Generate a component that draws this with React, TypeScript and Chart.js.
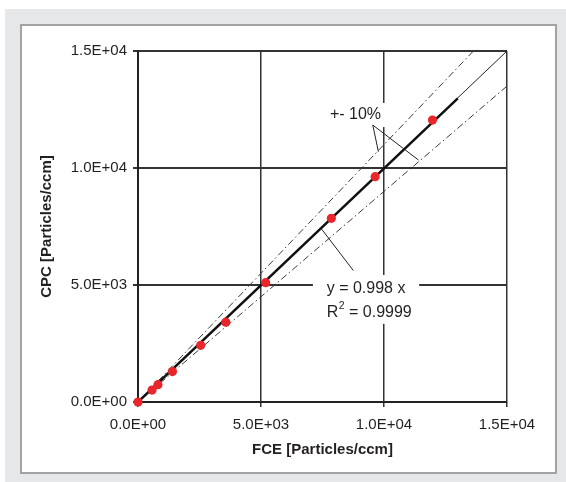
import React, { useEffect, useRef } from "react";
import { Chart, registerables } from "chart.js";

Chart.register(...registerables);

// Measured data (FCE vs CPC, particles/ccm)
const fceValues = [0, 570, 810, 1400, 2550, 3570, 5190, 7860, 9640, 11970];
const cpcValues = [0, 510, 740, 1300, 2420, 3410, 5100, 7850, 9630, 12050];

// Regression line y = 0.998 x (drawn segment)
const fitX = [0, 13000];
const fitY = [0, 12974];

// 1:1 reference line
const unityX = [0, 15000];
const unityY = [0, 15000];

// +10 % and -10 % bands
const upperX = [0, 13636];
const upperY = [0, 15000];
const lowerX = [0, 15000];
const lowerY = [0, 13500];

const axisTicks = [0, 5000, 10000, 15000];
const xTitle = "FCE [Particles/ccm]";
const yTitle = "CPC [Particles/ccm]";
const bandLabel = "+- 10%";
const eqLabel = "y = 0.998 x";
const r2Label = " = 0.9999";

const FONT = "'Liberation Sans', Arial, Helvetica, sans-serif";
const TEXT = "#231f20";

function sci(v: number): string {
  const [m, e] = v.toExponential(1).split("e");
  const sign = e.startsWith("-") ? "-" : "+";
  const digits = e.replace(/[+-]/, "").padStart(2, "0");
  return `${m}E${sign}${digits}`;
}

const pts = (xs: number[], ys: number[]) => xs.map((x, i) => ({ x, y: ys[i] }));

const annotationPlugin = {
  id: "fitAnnotations",
  beforeDatasetsDraw(chart: any) {
    const { ctx, scales } = chart;
    const x = scales.x;
    const y = scales.y;
    ctx.save();
    ctx.fillStyle = "#ffffff";
    const box = (x0: number, x1: number, y0: number, y1: number) => {
      const px0 = x.getPixelForValue(x0);
      const px1 = x.getPixelForValue(x1);
      const py0 = y.getPixelForValue(y1);
      const py1 = y.getPixelForValue(y0);
      ctx.fillRect(px0, py0, px1 - px0, py1 - py0);
    };
    box(7600, 10170, 11750, 12780);
    box(7110, 11430, 3340, 5430);
    ctx.restore();
  },
  afterDatasetsDraw(chart: any) {
    const { ctx, scales } = chart;
    const x = scales.x;
    const y = scales.y;
    const P = (a: number, b: number) => [x.getPixelForValue(a), y.getPixelForValue(b)];
    ctx.save();
    ctx.strokeStyle = "#222";
    ctx.lineWidth = 1;
    const line = (a: number[], b: number[]) => {
      ctx.beginPath();
      ctx.moveTo(a[0], a[1]);
      ctx.lineTo(b[0], b[1]);
      ctx.stroke();
    };
    const apex = P(9544, 11835);
    line(apex, P(9772, 10696));
    line(apex, P(11401, 10341));
    line(P(7467, 7384), P(8754, 5617));

    ctx.fillStyle = TEXT;
    ctx.textAlign = "left";
    ctx.textBaseline = "alphabetic";
    ctx.font = `16px ${FONT}`;
    const t1 = P(7800, 12080);
    ctx.fillText(bandLabel, t1[0], t1[1]);
    const t2 = P(7670, 4644);
    ctx.fillText(eqLabel, t2[0], t2[1]);
    const t3 = P(7670, 3653);
    ctx.fillText("R", t3[0], t3[1]);
    const rw = ctx.measureText("R").width;
    ctx.font = `10.5px ${FONT}`;
    ctx.fillText("2", t3[0] + rw + 0.5, t3[1] - 7.5);
    const sw = ctx.measureText("2").width;
    ctx.font = `16px ${FONT}`;
    ctx.fillText(r2Label, t3[0] + rw + sw + 0.5, t3[1]);
    ctx.restore();
  },
};

export default function App() {
  const canvasRef = useRef<HTMLCanvasElement | null>(null);

  useEffect(() => {
    const canvas = canvasRef.current;
    if (!canvas) return;
    const chart = new Chart(canvas, {
      type: "scatter",
      data: {
        datasets: [
          {
            label: "Measurements",
            data: pts(fceValues, cpcValues),
            backgroundColor: "#e8262c",
            borderColor: "#e8262c",
            pointRadius: 4.6,
            pointBorderWidth: 0,
            showLine: false,
            clip: false,
          },
          {
            label: "Fit",
            data: pts(fitX, fitY),
            showLine: true,
            borderColor: "#111111",
            borderWidth: 2.5,
            pointRadius: 0,
          },
          {
            label: "1:1",
            data: pts(unityX, unityY),
            showLine: true,
            borderColor: "#222222",
            borderWidth: 1,
            pointRadius: 0,
          },
          {
            label: "+10%",
            data: pts(upperX, upperY),
            showLine: true,
            borderColor: "#3a3a3a",
            borderWidth: 1,
            borderDash: [7, 3, 1.5, 3],
            pointRadius: 0,
          },
          {
            label: "-10%",
            data: pts(lowerX, lowerY),
            showLine: true,
            borderColor: "#3a3a3a",
            borderWidth: 1,
            borderDash: [7, 3, 1.5, 3],
            pointRadius: 0,
          },
        ],
      },
      options: {
        responsive: false,
        animation: false,
        devicePixelRatio: window.devicePixelRatio || 1,
        layout: { padding: { left: 0, top: 51, right: 59, bottom: 0 } },
        plugins: {
          legend: { display: false },
          tooltip: { enabled: false },
        },
        scales: {
          x: {
            type: "linear",
            min: 0,
            max: 15000,
            afterFit: (axis: any) => {
              axis.height = 80;
            },
            afterBuildTicks: (axis: any) => {
              axis.ticks = axisTicks.map((v) => ({ value: v }));
            },
            ticks: {
              callback: (v: any) => sci(Number(v)),
              color: TEXT,
              font: { family: FONT, size: 15 },
              padding: 9,
              maxRotation: 0,
            },
            grid: {
              color: "#333333",
              lineWidth: 1.5,
              drawTicks: true,
              tickLength: 5,
              tickColor: "#333333",
            },
            border: { display: true, color: "#222222", width: 2 },
            title: {
              display: true,
              text: xTitle,
              color: TEXT,
              font: { family: FONT, size: 15, weight: "bold" },
              padding: { top: 0, bottom: 23 },
            },
          },
          y: {
            type: "linear",
            min: 0,
            max: 15000,
            afterFit: (axis: any) => {
              axis.width = 138;
            },
            afterBuildTicks: (axis: any) => {
              axis.ticks = axisTicks.map((v) => ({ value: v }));
            },
            ticks: {
              callback: (v: any) => sci(Number(v)),
              color: TEXT,
              font: { family: FONT, size: 15 },
              padding: 6,
            },
            grid: {
              color: "#333333",
              lineWidth: 2,
              drawTicks: true,
              tickLength: 5,
              tickColor: "#333333",
            },
            border: { display: true, color: "#222222", width: 2 },
            title: {
              display: true,
              text: yTitle,
              color: TEXT,
              font: { family: FONT, size: 15, weight: "bold" },
              padding: { top: 38, bottom: 0 },
            },
          },
        },
      },
      plugins: [annotationPlugin],
    });
    return () => chart.destroy();
  }, []);

  return (
    <div
      style={{
        position: "fixed",
        left: 0,
        top: 0,
        width: 566,
        height: 482,
        background: "#ffffff",
        overflow: "hidden",
      }}
    >
      <div
        style={{
          position: "absolute",
          left: 5,
          top: 9,
          right: 0,
          bottom: 0,
          background: "#e6e7e8",
        }}
      />
      <div
        style={{
          position: "absolute",
          left: 20,
          top: 24,
          width: 537,
          height: 450,
          boxSizing: "border-box",
          border: "2px solid #a3a3a3",
          background: "#ffffff",
        }}
      />
      <canvas
        ref={canvasRef}
        width={566}
        height={482}
        style={{ position: "absolute", left: 0, top: 0, width: 566, height: 482 }}
      />
    </div>
  );
}
